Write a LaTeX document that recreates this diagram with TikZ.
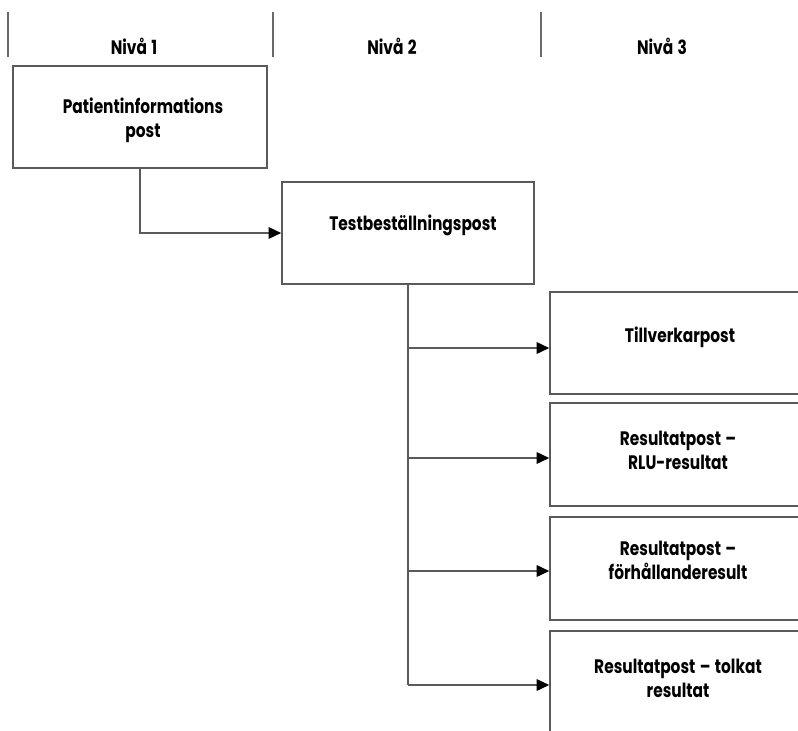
\documentclass[tikz,border=0pt]{standalone}
\usepackage{fontspec}
\newfontfamily\lblfont{Poppins}[FakeStretch=0.79,WordSpace=1.35]
\usetikzlibrary{arrows.meta}
\definecolor{linegray}{HTML}{5A5A5A}
\definecolor{rulegray}{HTML}{6A6A6A}
\begin{document}
\begin{tikzpicture}[x=1bp,y=-1bp,
  rec/.style={draw=linegray, line width=1.6bp, minimum width=#1,
    minimum height=102bp, inner sep=0pt, fill=white},
  txt/.style={font=\lblfont\bfseries\fontsize{19.5bp}{24bp}\selectfont,
    align=center, text=black, inner sep=0pt},
  conn/.style={draw=linegray, line width=1.6bp,
    -{Triangle[length=12.5bp,width=11.5bp,color=black]}},
  trunk/.style={draw=linegray, line width=1.6bp},
  divider/.style={draw=rulegray, line width=2bp}]
\useasboundingbox (0,0) rectangle (798,731);
\clip (0,0) rectangle (798,731);

% column headings and dividers
\draw[divider] (8,12) -- (8,57);
\draw[divider] (273,12) -- (273,57);
\draw[divider] (541,12) -- (541,57);
\node[txt] (h1) at (134,46) {Nivå 1};
\node[txt] (h2) at (392,46) {Nivå 2};
\node[txt] (h3) at (662,46) {Nivå 3};

% record boxes
\node[rec=254bp] (b1) at (140,117) {};
\node[rec=252bp] (b2) at (408,233) {};
\node[rec=260bp] (b3) at (680,343) {};
\node[rec=260bp, minimum height=103bp] (b4) at (680,454.5) {};
\node[rec=260bp, minimum height=103bp] (b5) at (680,568.5) {};
\node[rec=260bp, minimum height=106bp] (b6) at (680,684) {};

% box labels
\node[txt] (l1) at (143,120.5) {Patientinformations\\post};
\node[txt] (l2) at (413,225) {Testbeställningspost};
\node[txt] (l3) at (680,337) {Tillverkarpost};
\node[txt] (l4) at (678,450) {Resultatpost –\\RLU-resultat};
\node[txt] (l5) at (678,560) {Resultatpost –\\förhållanderesult};
\node[txt] (l6) at (678,678.5) {Resultatpost – tolkat\\resultat};

% connectors
\draw[conn] (b1.south) |- (b2.west);
\coordinate (t3) at (408,348);
\coordinate (t4) at (408,458);
\coordinate (t5) at (408,571);
\coordinate (t6) at (408,685);
\draw[trunk] (b2.south) -- (t6);
\draw[conn] (t3) -- (t3 -| b3.west);
\draw[conn] (t4) -- (t4 -| b4.west);
\draw[conn] (t5) -- (t5 -| b5.west);
\draw[conn] (t6) -- (t6 -| b6.west);
\end{tikzpicture}
\end{document}
